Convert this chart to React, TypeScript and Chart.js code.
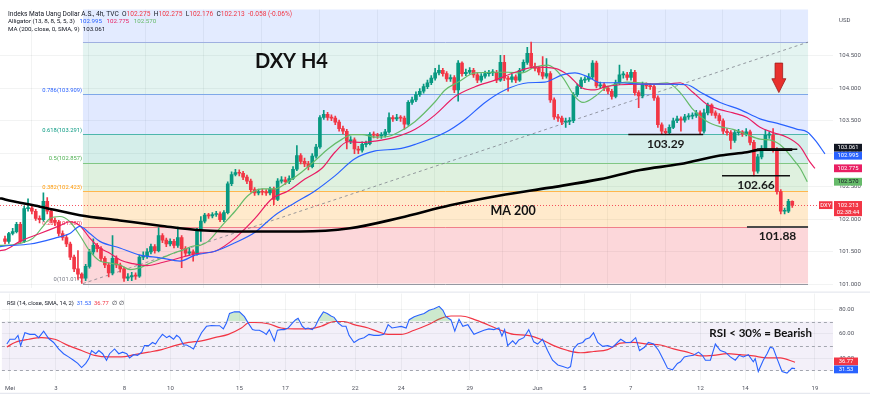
import React, { useEffect, useRef } from "react";
import { Chart, registerables } from "chart.js";

Chart.register(...registerables);

const FONT = "Roboto, 'Liberation Sans', Arial, sans-serif";
const BOLD = "Lato, 'Liberation Sans', Arial, sans-serif";

// ---------------- DATA ----------------
const firstOpen = 101.7;
const closes = [
  101.66, 101.78, 101.81, 101.92, 101.66, 102.16, 102.17, 102.12, 102.01, 101.99,
  102.27, 102.12, 101.98, 101.95, 101.78, 101.72, 101.62, 101.42, 101.24, 101.16,
  101.1, 101.28, 101.5, 101.6, 101.55, 101.4, 101.3, 101.18, 101.4, 101.3,
  101.24, 101.1, 101.12, 101.14, 101.13, 101.42, 101.44, 101.5, 101.58, 101.52,
  101.75, 101.68, 101.62, 101.66, 101.6, 101.72, 101.55, 101.48, 101.5, 101.47,
  101.82, 101.97, 102.06, 102.05, 102.07, 102.08, 101.99, 102.1, 102.54, 102.68,
  102.71, 102.7, 102.64, 102.58, 102.45, 102.4, 102.42, 102.41, 102.4, 102.46,
  102.3, 102.58, 102.6, 102.57, 102.62, 102.76, 102.97, 102.88, 102.84, 102.8,
  102.96, 103.1, 103.55, 103.6, 103.55, 103.54, 103.48, 103.38, 103.34, 103.19,
  103.21, 103.07, 103.05, 103.14, 103.15, 103.29, 103.28, 103.27, 103.28, 103.33,
  103.55, 103.53, 103.55, 103.54, 103.45, 103.78, 103.82, 103.9, 103.95, 104.02,
  104.08, 104.15, 104.23, 104.27, 104.22, 104.14, 104.16, 103.97, 104.38, 104.22,
  104.24, 104.27, 104.2, 104.12, 104.18, 104.22, 104.23, 104.24, 104.12, 104.39,
  104.15, 104.13, 104.17, 104.12, 104.27, 104.39, 104.53, 104.33, 104.3, 104.24,
  104.18, 104.22, 103.82, 103.56, 103.54, 103.48, 103.49, 103.5, 103.9, 104.02,
  104.12, 104.13, 104.17, 104.38, 104.03, 104.05, 104.0, 103.95, 103.87, 104.08,
  104.2, 104.2, 104.16, 104.24, 103.93, 103.88, 104.05, 104.03, 104.02, 103.85,
  103.44, 103.34, 103.32, 103.4, 103.5, 103.53, 103.51, 103.56, 103.57, 103.58,
  103.62, 103.34, 103.62, 103.74, 103.62, 103.58, 103.5, 103.34, 103.32, 103.2,
  103.32, 103.33, 103.3, 103.33, 103.17, 102.73, 102.95, 103.08, 103.28, 103.28,
  103.06, 102.42, 102.12, 102.12, 102.27, 102.21,
];
const highs = [
  101.74, 101.8, 101.86, 101.95, 101.95, 102.2, 102.31, 102.22, 102.15, 102.05,
  102.4, 102.33, 102.15, 102.02, 101.98, 101.82, 101.76, 101.65, 101.45, 101.52,
  101.18, 101.31, 101.54, 101.7, 101.63, 101.58, 101.43, 101.33, 101.75, 101.44,
  101.33, 101.27, 101.17, 101.19, 101.18, 101.45, 101.5, 101.55, 101.62, 101.61,
  101.87, 101.78, 101.71, 101.7, 101.69, 101.88, 101.75, 101.58, 101.56, 101.53,
  101.86, 102.04, 102.09, 102.09, 102.1, 102.12, 102.11, 102.13, 102.57, 102.72,
  102.76, 102.75, 102.73, 102.67, 102.61, 102.48, 102.46, 102.46, 102.45, 102.49,
  102.49, 102.62, 102.65, 102.64, 102.66, 102.8, 103.12, 103.0, 102.93, 102.88,
  103.0, 103.14, 103.58, 103.66, 103.63, 103.59, 103.57, 103.51, 103.42, 103.37,
  103.26, 103.24, 103.11, 103.18, 103.19, 103.32, 103.33, 103.31, 103.32, 103.37,
  103.62, 103.58, 103.6, 103.58, 103.57, 103.81, 103.86, 103.94, 103.99, 104.06,
  104.12, 104.19, 104.3, 104.35, 104.3, 104.25, 104.2, 104.19, 104.42, 104.4,
  104.29, 104.31, 104.3, 104.23, 104.22, 104.26, 104.27, 104.28, 104.27, 104.5,
  104.5, 104.18, 104.21, 104.2, 104.3, 104.43, 104.62, 104.7, 104.38, 104.33,
  104.48, 104.45, 104.25, 103.85, 103.6, 103.57, 103.54, 103.55, 103.93, 104.06,
  104.16, 104.17, 104.22, 104.42, 104.41, 104.09, 104.08, 104.03, 103.98, 104.12,
  104.35, 104.25, 104.24, 104.28, 104.27, 103.96, 104.09, 104.08, 104.07, 104.05,
  103.88, 103.47, 103.38, 103.44, 103.54, 103.57, 103.56, 103.6, 103.61, 103.62,
  103.66, 103.65, 103.68, 103.77, 103.76, 103.65, 103.61, 103.53, 103.38, 103.35,
  103.36, 103.37, 103.35, 103.38, 103.36, 103.2, 102.99, 103.12, 103.36, 103.33,
  103.38, 103.09, 102.45, 102.17, 102.3, 102.28,
];
const lows = [
  101.62, 101.63, 101.76, 101.79, 101.63, 101.64, 102.12, 102.08, 101.98, 101.94,
  101.97, 102.08, 101.94, 101.9, 101.74, 101.68, 101.58, 101.38, 101.2, 101.08,
  101.02, 101.06, 101.25, 101.46, 101.5, 101.36, 101.26, 101.12, 101.15, 101.26,
  101.19, 101.05, 101.06, 101.06, 101.08, 101.11, 101.38, 101.4, 101.47, 101.48,
  101.5, 101.64, 101.58, 101.59, 101.56, 101.57, 101.26, 101.44, 101.45, 101.36,
  101.45, 101.66, 101.94, 102.01, 102.02, 102.04, 101.96, 101.96, 102.08, 102.51,
  102.66, 102.66, 102.6, 102.54, 102.41, 102.36, 102.37, 102.37, 102.36, 102.37,
  102.22, 102.28, 102.55, 102.53, 102.54, 102.6, 102.74, 102.84, 102.8, 102.75,
  102.78, 102.93, 103.08, 103.52, 103.51, 103.5, 103.44, 103.34, 103.3, 103.07,
  103.15, 103.0, 103.0, 103.02, 103.1, 103.13, 103.24, 103.23, 103.23, 103.25,
  103.31, 103.49, 103.5, 103.49, 103.37, 103.43, 103.75, 103.79, 103.87, 103.92,
  103.99, 104.05, 104.12, 104.2, 104.18, 104.1, 104.1, 103.93, 103.8, 104.18,
  104.19, 104.21, 104.16, 104.08, 104.09, 104.15, 104.18, 104.19, 104.08, 104.1,
  104.11, 103.95, 104.09, 104.08, 104.1, 104.24, 104.36, 104.3, 104.26, 104.2,
  104.14, 104.15, 103.78, 103.52, 103.49, 103.44, 103.4, 103.44, 103.47, 103.87,
  103.99, 104.08, 104.1, 104.14, 104.0, 103.99, 103.96, 103.91, 103.83, 103.85,
  104.05, 104.15, 104.12, 104.12, 103.89, 103.7, 103.85, 103.99, 103.98, 103.81,
  103.4, 103.3, 103.29, 103.3, 103.38, 103.47, 103.34, 103.48, 103.52, 103.53,
  103.55, 103.3, 103.31, 103.59, 103.58, 103.54, 103.46, 103.3, 103.28, 103.07,
  103.17, 103.28, 103.26, 103.27, 103.13, 102.66, 102.7, 102.92, 103.05, 103.23,
  103.02, 102.38, 102.08, 102.08, 102.1, 102.18,
];

// time axis (candle-slot positions of the day labels)
const dayTickLabels = ["Mei", "3", "8", "10", "15", "17", "22", "24", "29", "Jun", "5", "7", "12", "14", "19"];
const dayTickSlots = [0.8, 12.8, 30.7, 42.7, 60.7, 72.7, 90.9, 102.9, 120.8, 138.5, 150.8, 162.8, 181, 192.7, 210.9];
const priceTicks = [101, 101.5, 102, 102.5, 103, 103.5, 104, 104.5];
const rsiTicks = [40, 60, 80];
const rsiBands = [70, 50, 30];

// indicators: [slot, value]
const ma200 = [
  [-1.3, 102.32], [0, 102.3], [9.1, 102.19], [19.5, 102.06], [29.9, 101.98], [40.4, 101.9], [50.8, 101.83],
  [63.8, 101.81], [76.8, 101.81], [89.8, 101.86], [102.9, 102.02], [115.9, 102.21], [128.9, 102.36],
  [141.9, 102.48], [155, 102.61], [165.4, 102.75], [175.8, 102.84], [186.2, 102.97], [193.2, 103.02],
  [197, 103.06], [205, 103.06],
];
const jaw = [
  [-1.3, 101.58], [0, 101.59], [6.5, 101.62], [13, 101.71], [16.9, 101.78], [19.5, 101.89], [22.1, 101.78],
  [24.7, 101.66], [29.9, 101.56], [35.2, 101.45], [40.4, 101.41], [45.6, 101.36], [49.5, 101.45], [54.7, 101.51],
  [59.9, 101.64], [65.1, 101.8], [70.3, 102.06], [75.5, 102.25], [80.7, 102.43], [85.9, 102.66], [91.1, 102.92],
  [96.4, 103.04], [102.3, 103.07], [106.8, 103.14], [114.6, 103.32], [119.8, 103.52], [125, 103.78],
  [130.2, 103.97], [136.2, 104.08], [140.6, 104.09], [145.1, 104.2], [148.4, 104.23], [151.8, 104.17],
  [155, 104.08], [160.2, 104.08], [165.4, 104.06], [172.4, 104.06], [177.6, 104.05], [181, 103.94],
  [186.2, 103.78], [191.4, 103.67], [196.6, 103.53], [201.8, 103.45], [206.3, 103.37], [208.9, 103.33],
  [211, 103.2], [213.5, 102.995],
];
const teeth = [
  [-1.3, 101.52], [0, 101.53], [3.9, 101.66], [9.1, 101.78], [14.3, 101.9], [16.9, 101.96], [19.5, 101.9],
  [22.1, 101.71], [24.7, 101.56], [27.3, 101.48], [29.9, 101.38], [33.3, 101.32], [37, 101.29], [40.4, 101.33],
  [43.8, 101.38], [47.4, 101.44], [50.8, 101.48], [54.7, 101.51], [59.9, 101.71], [65.1, 102.01], [69.5, 102.31],
  [73.7, 102.43], [78.1, 102.61], [82.6, 102.78], [85.9, 103.02], [89.3, 103.18], [93, 103.17], [96.4, 103.19],
  [101.6, 103.25], [106.8, 103.37], [112, 103.59], [117.2, 103.87], [122.4, 104.02], [127.6, 104.12],
  [132.8, 104.24], [138, 104.32], [143.2, 104.3], [146.6, 104.2], [150.3, 104.0], [153.6, 103.97],
  [156.3, 104.02], [160.2, 104.05], [165.4, 104.06], [172.4, 104.06], [175.8, 104.08], [179.2, 103.93],
  [182.8, 103.75], [186.2, 103.67], [189.6, 103.62], [193.2, 103.55], [196.6, 103.4], [200, 103.32],
  [203.6, 103.25], [207, 103.11], [209.6, 102.87], [210.9, 102.775],
];
const lips = [
  [-1.3, 101.6], [0, 101.6], [3.9, 101.63], [7.3, 101.71], [9.9, 101.89], [11.7, 102.01], [14.3, 102.04],
  [16.9, 101.96], [19.5, 101.75], [22.1, 101.51], [24.7, 101.36], [27.3, 101.33], [29.9, 101.3], [32.6, 101.23],
  [35.2, 101.26], [37.8, 101.33], [41.1, 101.41], [43.8, 101.48], [46.4, 101.53], [49, 101.59], [50.8, 101.6],
  [52.9, 101.66], [56.5, 101.9], [59.9, 102.12], [63.3, 102.36], [66.9, 102.46], [70.3, 102.46], [73.7, 102.57],
  [77.3, 102.72], [80.7, 102.89], [84.1, 103.07], [87.8, 103.22], [90.4, 103.29], [93, 103.29], [96.4, 103.25],
  [99.7, 103.26], [102.3, 103.32], [106.8, 103.49], [112, 103.79], [114.6, 103.97], [118, 104.09],
  [122.4, 104.23], [127.6, 104.24], [131, 104.24], [134.6, 104.23], [138, 104.32], [141.4, 104.35],
  [145.1, 104.17], [148.4, 103.87], [150.5, 103.78], [153.6, 103.87], [156.3, 104.0], [158.3, 104.05],
  [162, 104.09], [165.4, 104.08], [168.8, 104.06], [172.4, 104.08], [175.8, 103.93], [179.2, 103.67],
  [182.8, 103.49], [186.2, 103.41], [189.6, 103.37], [193.2, 103.29], [196.6, 103.22], [199.7, 103.2],
  [202.5, 103.1], [205.4, 102.9], [207, 102.78], [208.9, 102.57],
];

const rsi = [
  [0, 51.6], [0.8, 55.5], [2.1, 55.5], [2.9, 58.7], [3.6, 50.3], [4.7, 60.8], [6, 59.5], [7.3, 59.5], [8.3, 56.8],
  [9.6, 62.1], [10.9, 56.1], [12.2, 52.9], [13.5, 47.6], [14.8, 43.7], [16.1, 41.1], [17.4, 38.4], [18.5, 35.8],
  [19.5, 32.4], [20.6, 35.8], [21.4, 39.7], [22.1, 46.3], [23.2, 43.7], [24, 46.3], [25, 43.7], [26, 38.4],
  [26.8, 43.7], [28.1, 47.6], [29.2, 43.7], [30.2, 45], [31.3, 43.7], [32, 40.3], [33.1, 42.9], [34.1, 42.4],
  [35.2, 45], [35.9, 50.3], [37, 50.3], [38, 52.9], [38.8, 51.6], [39.6, 55.5], [40.6, 59.5], [41.7, 56.8],
  [42.4, 58.2], [43.5, 55.5], [44.3, 58.7], [45.1, 56.8], [46.1, 50.8], [46.9, 50.8], [47.7, 49.5], [48.7, 47.6],
  [49.5, 52.9], [50.8, 60.8], [52.1, 66.1], [53.4, 66.8], [54.7, 66.6], [55.5, 66.6], [56.5, 64], [57.3, 68.7],
  [58.1, 76.6], [59.4, 77.9], [60.7, 77.9], [62, 74], [63, 68.7], [64.1, 63.4], [64.8, 62.9], [65.9, 62.9],
  [66.9, 61.3], [67.7, 59.5], [68.5, 63.4], [69.8, 54.2], [70.6, 62.9], [71.6, 63.4], [72.4, 63.4], [73.4, 64.7],
  [74.5, 68.7], [75.3, 71.3], [76, 72.6], [77.1, 66.1], [77.9, 64], [78.6, 64.7], [79.7, 63.4], [80.5, 66.1],
  [81.5, 72.6], [82.6, 77.9], [83.6, 76.6], [84.6, 74.5], [85.4, 73.4], [86.5, 68.7], [87.5, 66.1], [88.5, 66.1],
  [89.3, 58.7], [90.6, 52.9], [91.9, 55.5], [93.2, 56.8], [94.5, 59.5], [95.8, 58.7], [97.1, 58.7], [98.4, 59.5],
  [99.5, 67.4], [100.5, 64.7], [101.6, 65.3], [102.9, 66], [104.2, 64.7], [105, 71.5], [106.3, 73.9],
  [107.6, 75.3], [108.9, 76.6], [110.2, 79.2], [111.5, 80.5], [112.8, 82.4], [113.8, 79.2], [114.6, 73.9],
  [115.9, 71.3], [116.9, 62.1], [118, 71.8], [119, 66.1], [120.3, 67.4], [121.1, 63.4], [121.9, 59.5],
  [123.2, 61.3], [124.5, 62.9], [125.8, 64], [127.1, 63.4], [128.4, 64.7], [129.2, 58.2], [129.9, 63.4],
  [130.7, 50.3], [132, 54.2], [132.8, 51.6], [133.6, 55], [134.9, 56.8], [136.2, 63.4], [137.5, 53.4],
  [138.5, 51.6], [139.8, 55.5], [141.1, 46.3], [142.4, 38.4], [143.8, 34.5], [145.1, 33.2], [146.4, 31.9],
  [147.1, 33.2], [147.9, 47.6], [149, 51.6], [150.3, 52.9], [151, 55.5], [152.1, 56.8], [153.1, 60.8],
  [154.2, 52.9], [155.5, 49.7], [156.8, 50.3], [158.1, 49], [158.9, 51.6], [160.2, 55.5], [161.5, 52.9],
  [162.8, 52.9], [164.1, 56.8], [165.1, 46.3], [166.4, 49], [167.4, 52.9], [168.8, 51.6], [170.1, 46.3],
  [171.4, 38.4], [172.4, 31.9], [173.7, 30.6], [175, 35.8], [175.8, 37.1], [176.8, 41.1], [177.9, 41.9],
  [179.2, 42.4], [180.5, 45], [181.5, 42.4], [182.3, 38.4], [183.6, 38.4], [184.9, 51.6], [186.2, 46.3],
  [187.5, 45], [188.8, 41.1], [190.1, 38.4], [191.1, 42.4], [192.2, 41.1], [193.5, 42.9], [194.8, 37.1],
  [195.3, 39.7], [196.1, 29.2], [197.4, 38.4], [198.4, 43.7], [199.2, 49], [200, 48.2], [201, 39.7],
  [202.3, 29.2], [203.6, 27.9], [204.9, 31.9], [205.7, 31.53],
];
const rsiMa = [
  [0, 49.2], [2.1, 52.9], [5.7, 55.5], [9.1, 56.8], [12.5, 55.5], [16.1, 50.3], [19.5, 46.3], [22.9, 42.4],
  [26.6, 41.1], [29.9, 41.1], [33.3, 42.9], [37, 45], [40.4, 47.1], [43.8, 50.3], [47.4, 52.9], [50.8, 54.2],
  [54.2, 56.8], [57.8, 59.5], [61.2, 64.7], [63.3, 69.2], [64.6, 69.2], [68.2, 68.2], [71.6, 64.7], [75, 64],
  [78.6, 64], [82, 66.1], [85.4, 70], [88, 70], [90.6, 67.4], [94.3, 64.7], [97.7, 60.8], [99.5, 59.5],
  [102.9, 59.5], [106.3, 62.9], [109.9, 67.4], [113.3, 72.6], [115.9, 74.5], [118.5, 74.5], [121.9, 71.8],
  [125.5, 67.4], [128.9, 62.9], [132.3, 59.5], [135.9, 58.7], [139.3, 55.5], [142.7, 50.3], [146.4, 46.3],
  [149.7, 44.5], [153.1, 45.5], [156.8, 47.1], [160.2, 52.4], [163.5, 52.9], [167.2, 51.6], [170.6, 50.8],
  [174, 47.6], [177.6, 45], [181, 41.9], [184.4, 42.4], [188, 43.7], [191.4, 42.9], [194.8, 41.9],
  [198.4, 40.3], [201.8, 40.3], [205.7, 36.77],
];

// Fibonacci retracement drawing (anchors: low candle -> high)
const fibRatios = ["0", "0.236", "0.382", "0.5", "0.618", "0.786", "1", "1.618"];
const fibPrices = [101.017, 101.88, 102.423, 102.857, 103.291, 103.909, 104.7, 106.976];
const fibAnchorSlots = [20.3, 209.1];

// annotations
const levelNoteText = ["103.29", "102.66", "101.88", ""];
const levelNotePrice = [103.29, 102.66, 101.88, 103.065];
const levelNoteFrom = [162.3, 186.7, 193.2, 195.8];
const levelNoteTo = [181.8, 204.4, 209.1, 206.3];
const titleText = ["DXY H4", "MA 200"];
const titleSlot = [65.1, 132.3];
const titlePrice = [104.41, 102.13];
const arrowSlot = 201.5;
const arrowPrices = [104.38, 103.93];
const rsiNote = { text: "RSI < 30% = Bearish", slot: 196.7, value: 60.4 };

// legend / last values
const symbolName = "Indeks Mata Uang Dollar A.S., 4h, TVC";
const ohlcLetters = ["O", "H", "L", "C"];
const ohlcValues = ["102.275", "102.275", "102.176", "102.213"];
const changeText = "-0.058 (-0.06%)";
const alligatorValues = ["102.995", "102.775", "102.570"];
const maValue = "103.061";
const lastPrice = 102.213;
const countdown = "02:38:44";
const rightLabelValues = [103.061, 102.995, 102.775, 102.57];
const rightLabelBg = ["#131722", "#2962ff", "#e91e63", "#66bb6a"];
const rightLabelFg = ["#ffffff", "#ffffff", "#ffffff", "#131722"];
const rsiLast = [36.77, 31.53];
const rsiLastBg = ["#f23645", "#2962ff"];

// ---------------- STYLE ----------------
const X_MIN = -1.3;
const X_MAX = 215.6;
const AXIS_W = 37;
const MAIN_H = 298;
const RSI_TOP = 284;
const RSI_H = 127;
const GRID = "rgba(42,46,57,0.06)";
const UP = "#089981";
const DOWN = "#f23645";
const TICK_FONT = { family: FONT, size: 6 };
const fibFill = [
  "rgba(242,54,69,0.2)", "rgba(255,152,0,0.2)", "rgba(76,175,80,0.18)", "rgba(8,153,129,0.17)",
  "rgba(41,98,255,0.14)", "rgba(8,153,129,0.11)", "rgba(41,98,255,0.13)",
];
const fibLine = ["#9598a1", "#f0808a", "#ffb74d", "#81c784", "#4db6ac", "#7fa8e8", "#9fb0e0", "#9fb0e0"];
const fibText = ["#787b86", "#f23645", "#ff9800", "#4caf50", "#089981", "#2962ff"];

function segText(ctx: CanvasRenderingContext2D, x: number, y: number, segs: [string, string][]) {
  let cx = x;
  for (const [t, c] of segs) {
    ctx.fillStyle = c;
    ctx.fillText(t, cx, y);
    cx += ctx.measureText(t).width;
  }
}

function spread(items: { y: number }[], gap: number) {
  items.sort((a, b) => a.y - b.y);
  for (let k = 0; k < 6; k++) {
    for (let i = 1; i < items.length; i++) {
      const d = items[i].y - items[i - 1].y;
      if (d < gap) {
        const s = (gap - d) / 2;
        items[i - 1].y -= s;
        items[i].y += s;
      }
    }
  }
  return items;
}

function tag(ctx: CanvasRenderingContext2D, x: number, yc: number, w: number, h: number, bg: string, fg: string, text: string) {
  ctx.fillStyle = bg;
  ctx.fillRect(x, yc - h / 2, w, h);
  ctx.fillStyle = fg;
  ctx.font = `5.8px ${FONT}`;
  ctx.textAlign = "center";
  ctx.textBaseline = "middle";
  ctx.fillText(text, x + w / 2, yc + 0.3);
}

const mainDecor = {
  id: "mainDecor",
  beforeDatasetsDraw(chart: any) {
    const { ctx, chartArea: ca, scales } = chart;
    const xs = scales.x;
    const ys = scales.y;
    ctx.save();
    ctx.beginPath();
    ctx.rect(ca.left, ca.top, ca.right - ca.left, ca.bottom - ca.top);
    ctx.clip();
    const x0 = xs.getPixelForValue(fibAnchorSlots[0]);
    const x1 = xs.getPixelForValue(fibAnchorSlots[1]);
    for (let i = 0; i < fibPrices.length - 1; i++) {
      const yA = ys.getPixelForValue(fibPrices[i]);
      const yB = ys.getPixelForValue(fibPrices[i + 1]);
      ctx.fillStyle = fibFill[i];
      ctx.fillRect(x0, yB, x1 - x0, yA - yB);
    }
    ctx.lineWidth = 1;
    for (let i = 0; i < fibPrices.length; i++) {
      const yy = Math.round(ys.getPixelForValue(fibPrices[i])) + 0.5;
      ctx.strokeStyle = fibLine[i];
      ctx.beginPath();
      ctx.moveTo(x0, yy);
      ctx.lineTo(x1, yy);
      ctx.stroke();
    }
    ctx.setLineDash([3, 3]);
    ctx.strokeStyle = "rgba(120,123,134,0.75)";
    ctx.beginPath();
    ctx.moveTo(x0, ys.getPixelForValue(fibPrices[0]));
    ctx.lineTo(x1, ys.getPixelForValue(fibPrices[6]));
    ctx.stroke();
    ctx.setLineDash([]);
    ctx.font = `5.8px ${FONT}`;
    ctx.textAlign = "right";
    ctx.textBaseline = "bottom";
    for (let i = 0; i < fibText.length; i++) {
      ctx.fillStyle = fibText[i];
      ctx.fillText(`${fibRatios[i]}(${fibPrices[i].toFixed(3)})`, x0 - 1, ys.getPixelForValue(fibPrices[i]) - 1);
    }
    const yp = Math.round(ys.getPixelForValue(lastPrice)) + 0.5;
    ctx.setLineDash([1, 2]);
    ctx.strokeStyle = "rgba(242,54,69,0.85)";
    ctx.beginPath();
    ctx.moveTo(ca.left, yp);
    ctx.lineTo(ca.right, yp);
    ctx.stroke();
    ctx.restore();
  },
  afterDatasetsDraw(chart: any) {
    const { ctx, chartArea: ca, scales } = chart;
    const xs = scales.x;
    const ys = scales.y;
    ctx.save();
    ctx.beginPath();
    ctx.rect(ca.left, ca.top, ca.right - ca.left, ca.bottom - ca.top);
    ctx.clip();
    for (let i = 0; i < levelNotePrice.length; i++) {
      const xa = xs.getPixelForValue(levelNoteFrom[i]);
      const xb = xs.getPixelForValue(levelNoteTo[i]);
      const yy = ys.getPixelForValue(levelNotePrice[i]);
      ctx.strokeStyle = i === 2 ? "#4a4a4a" : "#111111";
      ctx.lineWidth = i === 2 ? 2 : 1.5;
      ctx.beginPath();
      ctx.moveTo(xa, yy);
      ctx.lineTo(xb, yy);
      ctx.stroke();
      if (levelNoteText[i]) {
        ctx.font = `bold 12px ${BOLD}`;
        ctx.fillStyle = "#1a1a1a";
        ctx.textAlign = "center";
        ctx.textBaseline = "middle";
        ctx.fillText(levelNoteText[i], (xa + xb) / 2, yy + 9.5);
      }
    }
    // titles
    ctx.fillStyle = "#111111";
    ctx.textBaseline = "middle";
    ctx.font = `bold 20px ${BOLD}`;
    ctx.textAlign = "left";
    ctx.fillText(titleText[0], xs.getPixelForValue(titleSlot[0]), ys.getPixelForValue(titlePrice[0]));
    ctx.font = `bold 12.5px ${BOLD}`;
    ctx.textAlign = "center";
    ctx.fillText(titleText[1], xs.getPixelForValue(titleSlot[1]), ys.getPixelForValue(titlePrice[1]));
    // arrow
    const ax = xs.getPixelForValue(arrowSlot);
    const at = ys.getPixelForValue(arrowPrices[0]);
    const ab = ys.getPixelForValue(arrowPrices[1]);
    const hh = (ab - at) * 0.47;
    ctx.fillStyle = "#e8302c";
    ctx.strokeStyle = "#9e1c1a";
    ctx.lineWidth = 0.8;
    ctx.beginPath();
    ctx.moveTo(ax - 3.8, at);
    ctx.lineTo(ax + 3.8, at);
    ctx.lineTo(ax + 3.8, ab - hh);
    ctx.lineTo(ax + 7, ab - hh);
    ctx.lineTo(ax, ab);
    ctx.lineTo(ax - 7, ab - hh);
    ctx.lineTo(ax - 3.8, ab - hh);
    ctx.closePath();
    ctx.fill();
    ctx.stroke();
    ctx.restore();
  },
  afterDraw(chart: any) {
    const { ctx, chartArea: ca, scales } = chart;
    const ys = scales.y;
    ctx.save();
    // legend
    ctx.textAlign = "left";
    ctx.textBaseline = "middle";
    const dark = "#131722";
    ctx.font = `6.6px ${FONT}`;
    const l1: [string, string][] = [[symbolName + "  ", dark]];
    ohlcLetters.forEach((L, i) => {
      l1.push([L, dark]);
      l1.push([ohlcValues[i] + "  ", DOWN]);
    });
    l1.push([changeText, DOWN]);
    segText(ctx, 8, 14, l1);
    ctx.font = `6.2px ${FONT}`;
    segText(ctx, 8, 21.8, [
      ["Alligator (13, 8, 8, 5, 5, 3)   ", dark],
      [alligatorValues[0] + "   ", "#2962ff"],
      [alligatorValues[1] + "   ", "#e91e63"],
      [alligatorValues[2], "#66bb6a"],
    ]);
    segText(ctx, 8, 29.3, [["MA (200, close, 0, SMA, 9)  ", dark], [maValue, dark]]);
    // USD
    ctx.font = `6px ${FONT}`;
    ctx.fillStyle = "#50535e";
    ctx.fillText("USD", ca.right + 6, 20);
    // right labels
    const W = 28;
    const bx = ca.right + 1;
    const items = rightLabelValues.map((v, i) => ({ y: ys.getPixelForValue(v), i }));
    spread(items, 8);
    for (const it of items as any[]) {
      tag(ctx, bx, it.y, W, 7.8, rightLabelBg[it.i], rightLabelFg[it.i], rightLabelValues[it.i].toFixed(3));
    }
    const yl = ys.getPixelForValue(lastPrice);
    ctx.fillStyle = DOWN;
    ctx.fillRect(bx, yl - 4, W, 15);
    tag(ctx, bx, yl, W, 7.8, DOWN, "#fff", lastPrice.toFixed(3));
    tag(ctx, bx, yl + 7, W, 7, DOWN, "#fff", countdown);
    tag(ctx, ca.right - 14, yl, 13.5, 7.8, DOWN, "#fff", "DXY");
    ctx.restore();
  },
};

const rsiDecor = {
  id: "rsiDecor",
  beforeDatasetsDraw(chart: any) {
    const { ctx, chartArea: ca, scales } = chart;
    const ys = scales.y;
    ctx.save();
    const y70 = ys.getPixelForValue(rsiBands[0]);
    const y30 = ys.getPixelForValue(rsiBands[2]);
    ctx.fillStyle = "rgba(126,87,194,0.09)";
    ctx.fillRect(ca.left, y70, ca.right - ca.left, y30 - y70);
    ctx.setLineDash([3, 3]);
    ctx.strokeStyle = "#a3a6af";
    ctx.lineWidth = 1;
    for (const b of rsiBands) {
      const yy = Math.round(ys.getPixelForValue(b)) + 0.5;
      ctx.beginPath();
      ctx.moveTo(ca.left, yy);
      ctx.lineTo(ca.right, yy);
      ctx.stroke();
    }
    ctx.restore();
  },
  afterDraw(chart: any) {
    const { ctx, chartArea: ca, scales } = chart;
    const xs = scales.x;
    const ys = scales.y;
    ctx.save();
    ctx.strokeStyle = "#e0e3eb";
    ctx.lineWidth = 1;
    ctx.beginPath();
    ctx.moveTo(0, ca.top - 1.5);
    ctx.lineTo(chart.width, ca.top - 1.5);
    ctx.moveTo(0, ca.bottom + 13.5);
    ctx.lineTo(chart.width, ca.bottom + 13.5);
    ctx.stroke();
    ctx.font = `5.8px ${FONT}`;
    ctx.textAlign = "left";
    ctx.textBaseline = "middle";
    segText(ctx, 7, ca.top + 10, [
      ["RSI (14, close, SMA, 14, 2)  ", "#131722"],
      [rsiLast[1].toFixed(2) + "  ", "#2962ff"],
      [rsiLast[0].toFixed(2) + "  ", DOWN],
      ["\u2205  \u2205", "#131722"],
    ]);
    ctx.font = `bold 11.5px ${BOLD}`;
    ctx.fillStyle = "#111111";
    ctx.textAlign = "center";
    ctx.fillText(rsiNote.text, xs.getPixelForValue(rsiNote.slot), ys.getPixelForValue(rsiNote.value));
    const items = rsiLast.map((v, i) => ({ y: ys.getPixelForValue(v), i }));
    spread(items, 8);
    for (const it of items as any[]) {
      tag(ctx, ca.right + 1, it.y, 24, 7.8, rsiLastBg[it.i], "#fff", rsiLast[it.i].toFixed(2));
    }
    ctx.restore();
  },
};

const pts = (arr: number[][]) => arr.map(([x, y]) => ({ x, y }));

export default function App() {
  const mainRef = useRef<HTMLCanvasElement>(null);
  const rsiRef = useRef<HTMLCanvasElement>(null);

  useEffect(() => {
    document.body.style.margin = "0";
    const opens = closes.map((c, i) => (i === 0 ? firstOpen : closes[i - 1]));
    const colors = closes.map((c, i) => (c >= opens[i] ? UP : DOWN));
    const xTicks = (s: any) => {
      s.ticks = dayTickSlots.map((v) => ({ value: v }));
    };
    const lineDs = (label: string, data: number[][], color: string, width: number, order: number) => ({
      type: "line",
      label,
      data: pts(data),
      borderColor: color,
      borderWidth: width,
      pointRadius: 0,
      cubicInterpolationMode: "monotone",
      fill: false,
      order,
    });

    const main = new Chart(mainRef.current as HTMLCanvasElement, {
      type: "bar",
      data: {
        datasets: [
          lineDs("MA 200", ma200, "#000000", 2.6, 1),
          lineDs("Jaw", jaw, "#2962ff", 1.2, 2),
          lineDs("Teeth", teeth, "#e91e63", 1.2, 3),
          lineDs("Lips", lips, "#66bb6a", 1.2, 4),
          {
            type: "bar",
            label: "wick",
            data: closes.map((c, i) => ({ x: i, y: [lows[i], highs[i]] })),
            backgroundColor: colors,
            barThickness: 1,
            grouped: false,
            order: 6,
          },
          {
            type: "bar",
            label: "body",
            data: closes.map((c, i) => ({ x: i, y: [opens[i], c] })),
            backgroundColor: colors,
            barThickness: 3,
            minBarLength: 1,
            grouped: false,
            order: 5,
          },
        ] as any,
      },
      options: {
        animation: false,
        responsive: false,
        devicePixelRatio: 1,
        events: [],
        layout: { padding: { top: 8, bottom: 8, left: 0, right: 0 } },
        plugins: { legend: { display: false }, tooltip: { enabled: false } },
        scales: {
          x: {
            type: "linear",
            min: X_MIN,
            max: X_MAX,
            offset: false,
            afterBuildTicks: xTicks,
            ticks: { display: false },
            grid: { color: GRID, drawTicks: false },
            border: { display: false },
          },
          y: {
            position: "right",
            min: 100.943,
            max: 105.196,
            afterBuildTicks: (s: any) => {
              s.ticks = priceTicks.map((v) => ({ value: v }));
            },
            afterFit: (s: any) => {
              s.width = AXIS_W;
            },
            ticks: {
              color: "#50535e",
              font: TICK_FONT,
              padding: 6,
              callback: (v: any) => Number(v).toFixed(3),
            },
            grid: { color: GRID, drawTicks: false },
            border: { display: false },
          },
        },
      } as any,
      plugins: [mainDecor],
    });

    const rsiChart = new Chart(rsiRef.current as HTMLCanvasElement, {
      type: "line",
      data: {
        datasets: [
          {
            label: "RSI",
            data: pts(rsi),
            borderColor: "#2962ff",
            borderWidth: 1.1,
            pointRadius: 0,
            fill: { target: { value: 70 }, above: "rgba(76,175,80,0.28)", below: "rgba(0,0,0,0)" },
            order: 1,
          },
          {
            label: "RSI MA",
            data: pts(rsiMa),
            borderColor: "#f23645",
            borderWidth: 1.2,
            pointRadius: 0,
            cubicInterpolationMode: "monotone",
            fill: false,
            order: 2,
          },
        ] as any,
      },
      options: {
        animation: false,
        responsive: false,
        devicePixelRatio: 1,
        events: [],
        layout: { padding: { top: 8, bottom: 14, left: 0, right: 0 } },
        plugins: { legend: { display: false }, tooltip: { enabled: false } },
        scales: {
          x: {
            type: "linear",
            min: X_MIN,
            max: X_MAX,
            offset: false,
            afterBuildTicks: xTicks,
            ticks: {
              autoSkip: false,
              maxRotation: 0,
              color: "#50535e",
              font: TICK_FONT,
              padding: 5,
              callback: (_v: any, i: number) => dayTickLabels[i],
            },
            grid: { color: GRID, drawTicks: false },
            border: { display: false },
          },
          y: {
            position: "right",
            min: 22.4,
            max: 92.8,
            afterBuildTicks: (s: any) => {
              s.ticks = rsiTicks.map((v) => ({ value: v }));
            },
            afterFit: (s: any) => {
              s.width = AXIS_W;
            },
            ticks: {
              color: "#50535e",
              font: TICK_FONT,
              padding: 6,
              callback: (v: any) => Number(v).toFixed(2),
            },
            grid: { color: GRID, drawTicks: false },
            border: { display: false },
          },
        },
      } as any,
      plugins: [rsiDecor],
    });

    return () => {
      main.destroy();
      rsiChart.destroy();
    };
  }, []);

  return (
    <div style={{ position: "relative", width: 870, height: 411, background: "#ffffff", overflow: "hidden" }}>
      <canvas ref={mainRef} width={870} height={MAIN_H} style={{ position: "absolute", left: 0, top: 0 }} />
      <canvas ref={rsiRef} width={870} height={RSI_H} style={{ position: "absolute", left: 0, top: RSI_TOP }} />
    </div>
  );
}
